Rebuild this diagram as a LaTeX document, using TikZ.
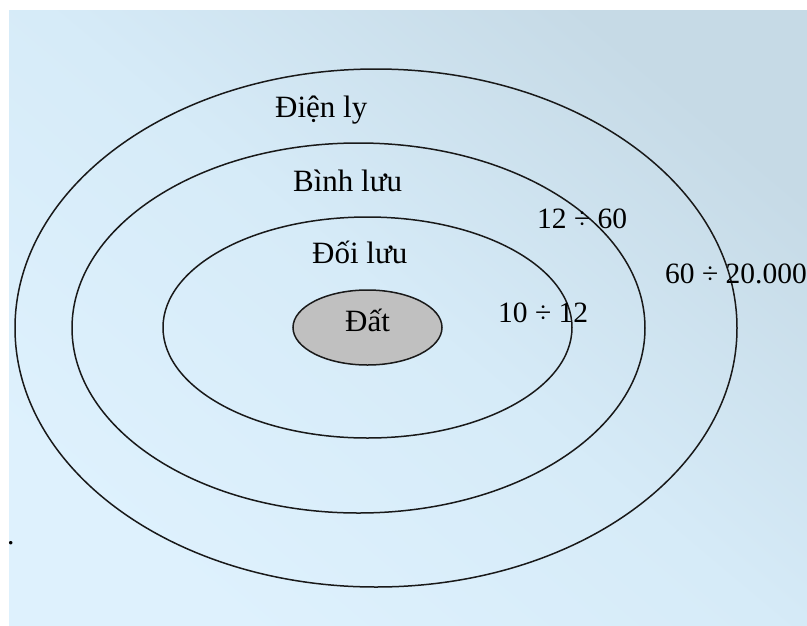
\documentclass[tikz,border=0pt]{standalone}
\usepackage{fontspec}
\setmainfont{Liberation Serif}
\usetikzlibrary{shapes.geometric}
\begin{document}
\begin{tikzpicture}[x=1pt,y=-1pt,
  ring/.style={draw=black!90,line width=1.5pt},
  lbl/.style={inner sep=0pt,anchor=base west,font=\fontsize{31}{36}\selectfont},
  num/.style={inner sep=0pt,anchor=base west,font=\fontsize{29.5}{34}\selectfont}]
\useasboundingbox (0,0) rectangle (807,625);
\fill[white] (0,0) rectangle (807,625);
\shade[top color={rgb,255:red,198;green,218;blue,230},bottom color={rgb,255:red,222;green,241;blue,253},middle color={rgb,255:red,214;green,235;blue,248},shading angle=-40] (9,10) rectangle (807,625);
% rings
\draw[ring] (376,328) ellipse [x radius=361,y radius=259];
\draw[ring] (358.5,328) ellipse [x radius=286.5,y radius=185];
\draw[ring] (367.5,327.5) ellipse [x radius=204.5,y radius=110.5];
\node[ellipse,draw=black!90,line width=1.5pt,fill={rgb,255:red,192;green,192;blue,192},minimum width=149pt,minimum height=75pt,inner sep=0pt] (earth) at (367.5,327.5) {};
% labels
\node[lbl] (dienly) at (275,117) {Điện ly};
\node[lbl] (binhluu) at (293,191) {Bình lưu};
\node[lbl] (doiluu) at (312,263) {Đối lưu};
\node[lbl] (dat) at (345,331) {Đất};
\node[num] (r1) at (498,322) {10 ÷ 12};
\node[num] (r2) at (537,228) {12 ÷ 60};
\node[num] (r3) at (665,283) {60 ÷ 20.000};
\node[num] (dot) at (7,544) {.};
\end{tikzpicture}
\end{document}
